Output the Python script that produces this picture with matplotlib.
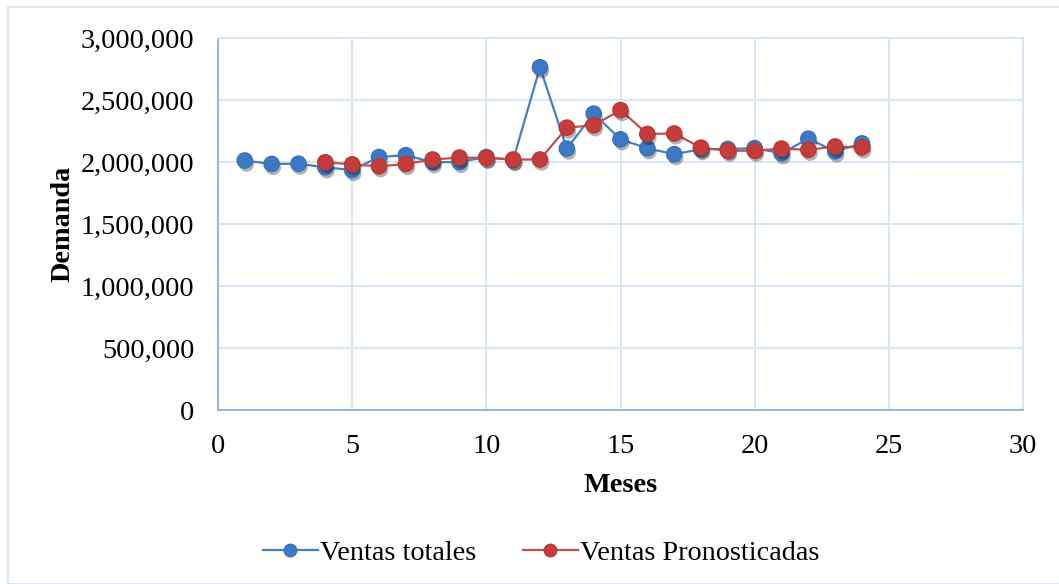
import matplotlib
matplotlib.use("Agg")
import matplotlib.pyplot as plt
from matplotlib.ticker import FuncFormatter, MultipleLocator
import matplotlib.patheffects as pe
from matplotlib.patches import Rectangle
from matplotlib.lines import Line2D

meses_reales = list(range(1, 25))
ventas_totales = [2012000, 1984000, 1986000, 1957000, 1935000, 2040000, 2055000, 1998000,
                  2000000, 2040000, 2016000, 2764000, 2108000, 2390000, 2183000, 2110000,
                  2063000, 2103000, 2105000, 2112000, 2070000, 2188000, 2086000, 2150000]
meses_pron = list(range(4, 25))
ventas_pronosticadas = [1998000, 1981000, 1965000, 1984000, 2020000, 2036000, 2033000, 2020000,
                        2020000, 2277000, 2296000, 2419000, 2226000, 2230000, 2116000, 2091000,
                        2091000, 2108000, 2098000, 2125000, 2117000]

plt.rcParams['font.family'] = ['Liberation Serif', 'DejaVu Serif']
FS = 20.3

fig = plt.figure(figsize=(10.59, 5.84), dpi=100)
fig.patch.set_facecolor('white')
fig.patches.append(Rectangle((8/1059, 0), 1.2, 1 - 7/584, transform=fig.transFigure,
                             fill=False, edgecolor='#D5E3F3', linewidth=1.2, zorder=0))

ax = fig.add_axes([218/1059, 1 - 410/584, (1023-218)/1059, (410-38)/584])

shadow = [pe.SimplePatchShadow(offset=(1.2, -2.5), shadow_rgbFace='black', alpha=0.3), pe.Normal()]

series = [
    (meses_reales, ventas_totales, '#4A7EBB', '#3C78C3', '#3A72B8', 'Ventas totales', 3),
    (meses_pron, ventas_pronosticadas, '#C0504D', '#C43C3B', '#B83836', 'Ventas Pronosticadas', 5),
]
handles = []
for xs, ys, lc, fc, ec, lab, z in series:
    ax.plot(xs, ys, color=lc, linewidth=1.6, zorder=z)
    m, = ax.plot(xs, ys, linestyle='none', marker='o', markersize=11,
                 markerfacecolor=fc, markeredgecolor=ec, zorder=z + 1)
    m.set_path_effects(shadow)
    handles.append(Line2D([], [], color=lc, linewidth=1.6, marker='o', markersize=9,
                          markerfacecolor=fc, markeredgecolor=ec, label=lab))

ax.set_xlim(0, 30)
ax.set_ylim(0, 3000000)
ax.xaxis.set_major_locator(MultipleLocator(5))
ax.yaxis.set_major_locator(MultipleLocator(500000))
ax.yaxis.set_major_formatter(FuncFormatter(lambda v, p: f"{int(v):,}"))
ax.grid(True, color='#D6E4F4', linewidth=1.3)
ax.set_axisbelow(True)
for s in ['top', 'right']:
    ax.spines[s].set_color('#D6E4F4')
    ax.spines[s].set_linewidth(1.3)
for s in ['left', 'bottom']:
    ax.spines[s].set_color('#8EB0DD')
    ax.spines[s].set_linewidth(1.3)
ax.tick_params(axis='both', length=0, labelsize=FS, colors='black')
ax.tick_params(axis='y', pad=17)
ax.tick_params(axis='x', pad=17)

ax.set_xlabel('Meses', fontsize=FS, fontweight='bold', labelpad=10)
ax.set_ylabel('Demanda', fontsize=FS, fontweight='bold', labelpad=4)

fig.legend(handles=handles, loc='center', bbox_to_anchor=(541/1059, 1 - 553/584), ncol=2,
           frameon=False, fontsize=FS, handlelength=1.95, handletextpad=0.08,
           columnspacing=1.65)

fig.savefig('out.png', dpi=100, facecolor='white')
